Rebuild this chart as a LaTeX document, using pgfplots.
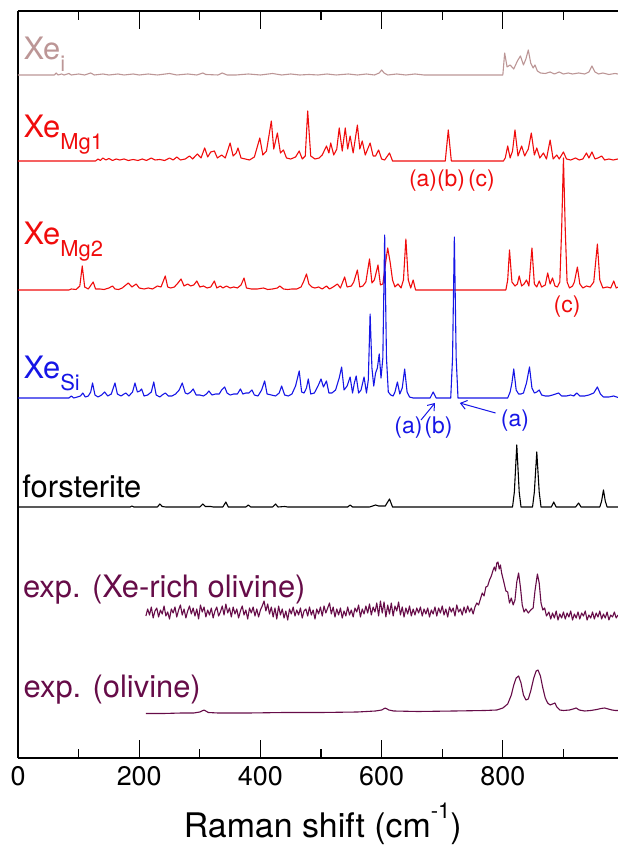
\documentclass[border=0pt]{standalone}
\usepackage{fontspec}
\setmainfont{TeX Gyre Heros}
\setsansfont{TeX Gyre Heros}
\usepackage{pgfplots}
\usepackage{pgfplotstable}
\pgfplotsset{compat=1.18}
\usetikzlibrary{arrows.meta}
\definecolor{xei}{RGB}{188,150,150}
\definecolor{xemg}{RGB}{240,12,12}
\definecolor{xesi}{RGB}{22,22,230}
\definecolor{expc}{RGB}{102,12,72}
\newcommand\lab[1]{Xe\raisebox{-12bp}{\fontsize{22}{22}\selectfont #1}}

\pgfplotstableread{
x y
0 0
60 0
63 2
66 0
72 1
76 0
84 1.5
88 0
100 1
110 0
120 2
126 0
140 1
150 0
165 1
175 0
190 1
200 0
215 1
230 0
250 1.5
262 0
280 1
295 0
305 2
310 0.5
330 0
337 2
345 0
360 0
380 1
400 0
420 1.5
435 0
450 1
465 0
480 0.5
495 0
510 1
525 0
545 1
560 0
575 1
588 0
596 2
600 5
604 2
610 0
625 1
640 0
655 1
670 0
800 0
803 22
807 8
812 10
818 6
824 14
829 19
834 10
838 16
842 25
846 12
850 7
853 10
857 4
862 2
870 1.5
878 3
885 1
893 3
900 1
908 2
915 1
925 2
935 1
942 3
947 9
952 3
958 1
965 2
975 0.5
985 1.5
990 1
}\xei

\pgfplotstableread{
x y
0 0
128 0
132 2
136 0.5
140 3
145 1
150 2.5
156 0.5
162 2
168 1
175 2
182 0.5
190 1.5
198 0.5
205 2
212 0.5
220 3
226 1
234 1.5
242 0.5
250 3
256 1
262 4
268 1
276 2
283 5
288 2
296 7
302 3
308 13
313 4
318 9
324 10
329 3
336 6
342 3
350 18
355 5
360 8
363 13
368 3
375 2
382 1
390 4
399 23
404 6
410 10
418 40
422 12
428 28
433 8
438 11
443 3
450 2
458 4
464 10
469 2
474 5
478 50
483 5
490 2
497 3
502 6
509 15
513 8
516 18
521 6
526 12
530 33
535 10
540 33
544 12
548 25
553 8
560 36
564 12
568 20
573 6
581 18
586 5
590 5
595 11
600 2
605 1
613 8
618 0
626 0
705 0
710 31
715 0
801 0
804 3
808 15
812 3
816 10
820 31
825 5
831 15
836 5
842 12
847 28
852 6
856 13
861 3
867 8
872 2
878 21
883 2
889 6
893 2
900 9
905 2
912 1
920 3
926 1
932 2
938 8
942 3
947 9
952 2
957 3
963 5
968 1
975 2
982 1
990 2
}\xemga

\pgfplotstableread{
x y
0 0
84 0
88 1
96 0.5
102 4
106 24
110 3
116 1
124 8
128 1
135 1
142 0.5
150 2
156 4
160 1
166 0.5
172 2
178 5
182 7
188 3
195 6
200 2
208 1
215 2
222 1
230 4
236 3
243 14
247 3
252 2
258 3
264 7
269 11
274 4
280 6
285 4
290 5
295 9
300 3
306 4
312 2
318 3
324 9
328 2
334 4
338 2
344 4
350 2
356 3
362 2
368 5
373 12
377 2
385 1
395 1
405 2
412 0.5
420 1
428 2
432 4
438 1
445 0.5
452 1
460 1
467 3
471 8
476 16
480 6
485 3
490 2
496 3
502 1
509 4
514 1
520 3
527 6
532 2
539 13
543 3
550 4
554 8
560 20
564 3
569 4
574 8
580 31
584 7
588 10
594 25
598 5
602 6
606 25
610 42
614 28
618 10
622 3
627 6
632 2
636 10
640 51
644 10
648 2
652 10
656 0
805 0
808 10
811 40
815 8
820 4
824 6
827 14
831 4
835 6
839 10
843 4
848 42
852 6
856 3
860 9
864 3
870 5
874 17
878 6
882 12
886 4
890 3
894 8
897 60
900 132
903 60
906 8
910 2
915 4
918 8
923 23
927 6
932 2
938 4
944 3
950 8
956 46
960 10
965 2
972 3
978 2
983 9
987 2
990 3
}\xemgb

\pgfplotstableread{
x y
0 0
84 0
88 2
92 0
98 1
103 2
107 5
111 1
116 2
120 6
123 15
127 3
132 1
138 3
143 6
148 2
154 4
160 15
164 4
170 2
175 4
178 5
183 2
189 6
193 15
197 6
201 7
204 9
208 2
214 3
220 6
224 16
228 3
234 1
238 3
243 5
248 2
254 2
260 4
266 8
271 15
276 5
280 4
285 6
289 9
294 3
300 3
306 2
311 4
315 7
320 3
326 4
332 4
336 8
341 11
345 5
350 3
356 4
362 4
367 9
371 4
376 5
381 5
386 8
390 3
396 2
402 8
407 17
411 4
418 3
425 2
431 5
435 12
440 3
446 2
452 4
458 12
464 27
468 6
472 5
476 10
479 19
483 4
489 5
495 12
500 19
504 11
509 17
513 5
518 5
524 8
530 20
534 31
538 8
543 12
548 21
552 5
555 15
558 22
562 5
566 8
571 21
575 5
578 18
581 84
584 30
587 12
590 25
593 30
596 44
599 20
602 40
605 163
608 40
611 6
615 3
619 2
622 6
626 16
630 4
634 10
638 29
642 6
646 1
652 0
680 0
685 6
690 0
714 0
717 40
720 161
723 40
726 0
808 0
812 6
815 15
818 29
822 8
826 4
830 4
834 5
839 15
844 31
848 10
852 5
856 6
860 8
864 3
870 2
876 2
882 3
887 4
892 5
897 2
905 2
912 3
917 2
922 5
927 2
935 2
942 3
950 5
956 11
961 4
966 1
975 1
983 2
990 0.5
}\xesi

\pgfplotstableread{
x y
0 0
185 0
188 1
191 0
230 0
234 3
238 0.5
244 0
300 0
305 3
309 0.5
318 0.5
322 0
338 0
343 5
347 0
376 0
380 2
384 0
420 0
425 3
429 0
440 0.5
445 0
544 0
548 2
552 0
580 0
585 1
590 2
595 1
600 1
606 1
613 8
618 0
816 0
819 15
823 62
827 15
830 0
849 0
852 15
856 55
860 15
863 0
880 0
884 5
888 0
920 0
925 4
929 0
960 0
963 6
966 17
969 6
972 0
990 0
}\fo

\pgfplotstableread{
x y
211 -3
214 4
217 -2
220 6
223 -5
226 2
229 5
232 -4
235 3
238 -1
241 7
244 -3
247 1
250 -6
253 4
256 0
259 6
262 -4
265 3
268 8
271 -2
274 4
277 -5
280 2
283 7
286 -1
289 5
292 -3
295 4
298 -6
301 8
304 1
307 6
310 -4
313 3
316 -2
319 5
322 -5
325 2
328 6
331 -3
334 1
337 7
340 -2
343 9
346 0
349 5
352 -4
355 6
358 -1
361 4
364 -5
367 2
370 7
373 -2
376 3
379 -6
382 5
385 0
388 6
391 -3
394 4
397 -4
400 3
403 7
406 12
409 2
412 9
415 -1
418 6
421 -4
424 5
427 -6
430 7
433 -2
436 4
439 -5
442 2
445 -7
448 4
451 -1
454 6
457 -3
460 3
463 -2
466 5
469 -5
472 2
475 4
478 -3
481 6
484 -2
487 3
490 -6
493 4
496 -1
499 6
502 -3
505 7
508 0
511 5
514 10
517 -1
520 6
523 -4
526 4
529 -2
532 5
535 -5
538 2
541 -3
544 6
547 -2
550 3
553 -4
556 5
559 1
562 8
565 -4
568 4
571 -1
574 7
577 0
580 9
583 -2
586 6
589 1
592 10
595 -3
598 12
601 0
604 11
607 -4
610 8
613 -1
616 10
619 -3
622 7
625 2
628 11
631 -2
634 6
637 -4
640 5
643 -1
646 7
649 -3
652 4
655 -2
658 5
661 0
664 6
667 -3
670 4
673 -1
676 5
679 -4
682 3
685 -1
688 6
691 -3
694 5
697 0
700 7
703 -2
706 4
709 -4
712 6
715 1
718 5
721 -3
724 8
727 1
730 4
733 -2
736 6
739 0
742 7
745 1
748 5
751 -1
754 6
757 10
760 8
763 14
766 20
769 17
772 26
775 27
778 33
781 37
784 43
786 46
788 42
790 50
792 51
794 44
796 48
798 40
800 35
802 30
805 22
808 21
811 10
814 15
817 8
820 13
823 31
826 40
829 26
832 8
835 1
838 4
842 0
846 3
850 5
853 22
857 39
860 30
863 10
866 3
869 5
872 -3
876 1
879 -6
882 0
885 -5
888 2
891 -7
894 -1
897 -5
900 1
903 -6
906 0
909 -4
912 2
915 -7
918 -1
921 -5
924 1
927 -6
930 0
933 -3
936 2
939 -7
942 -2
945 -5
948 1
951 -6
954 0
957 -4
960 2
963 -6
966 -1
969 -5
972 1
975 -7
978 -2
981 -4
984 1
987 -5
990 -2
}\expxe

\pgfplotstableread{
x y
211 -0.5
240 -0.5
270 0
290 0
300 1
307 3
314 0.5
330 0
380 0
440 0.5
500 0.5
560 1
590 2
600 3
606 5
612 3
620 2
660 1.5
720 2
770 2.5
790 3
800 5
808 9
814 18
818 28
822 35
826 37
830 30
834 18
838 13
842 14
846 22
851 35
855 42
858 43
862 37
866 25
870 15
874 10
878 8
882 9
886 10
889 6
894 3
900 2.5
910 3
916 4
921 5
926 3
935 2
945 2.5
955 3.5
962 4.5
968 5
974 4
980 3
986 2.5
990 2.5
}\expol

\begin{document}
\begin{tikzpicture}
\useasboundingbox (-18bp,-95bp) rectangle (600bp,758bp);
\begin{axis}[
  scale only axis,
  width=600bp, height=747bp,
  xmin=0, xmax=990, ymin=0, ymax=747,
  axis x line*=box, axis y line*=left,
  axis line style={line width=1.2bp, black},
  xtick={0,200,400,600,800},
  minor xtick={100,300,500,700,900},
  ytick=\empty,
  tick align=inside,
  major tick length=18bp, minor tick length=9bp,
  tick style={line width=1.2bp, black},
  /pgf/number format/assume math mode=true,
  tick label style={font=\fontsize{27}{27}\selectfont},
  every x tick label/.append style={yshift=-5bp},
  xlabel={Raman shift (cm\raisebox{0.55em}{\fontsize{22}{22}\selectfont -1})},
  every axis x label/.style={at={(axis description cs:0.508,0)}, anchor=base, yshift=-79bp, font=\fontsize{34}{34}\selectfont},
  every axis plot/.append style={line width=1.1bp, line join=round},
]
\addplot[xei] table[y expr=\thisrow{y}+683] {\xei};
\addplot[xemg] table[y expr=\thisrow{y}+597] {\xemga};
\addplot[xemg] table[y expr=\thisrow{y}+468] {\xemgb};
\addplot[xesi] table[y expr=\thisrow{y}+360] {\xesi};
\addplot[black] table[y expr=\thisrow{y}+251] {\fo};
\addplot[expc] table[y expr=\thisrow{y}+145] {\expxe};
\addplot[expc] table[y expr=\thisrow{y}+45] {\expol};

\begin{scope}[every node/.style={inner sep=0, anchor=base west, font=\fontsize{31}{31}\selectfont}]
\node[text=xei] at (axis cs:9,698) {\lab{i}};
\node[text=xemg] at (axis cs:9,620) {\lab{Mg1}};
\node[text=xemg] at (axis cs:9,513) {\lab{Mg2}};
\node[text=xesi] at (axis cs:9,379) {\lab{Si}};
\node[text=black] at (axis cs:7,260) {forsterite};
\node[text=expc] at (axis cs:8,160) {exp. (Xe-rich olivine)};
\node[text=expc] at (axis cs:9,61) {exp. (olivine)};
\end{scope}
\begin{scope}[every node/.style={inner sep=0, anchor=base, font=\fontsize{23}{23}\selectfont}]
\node[text=xemg] at (axis cs:716,571) {(a)(b)\kern3bp(c)};
\node[text=xemg] at (axis cs:906,445) {(c)};
\node[text=xesi] at (axis cs:669,324) {(a)\kern2bp(b)};
\node[text=xesi] at (axis cs:820,331) {(a)};
\end{scope}
\draw[xesi, line width=1bp, -{Straight Barb[length=6bp,width=9bp]}] (axis cs:665,338) -- (axis cs:688,355);
\draw[xesi, line width=1bp, -{Straight Barb[length=6bp,width=9bp]}] (axis cs:788,345) -- (axis cs:729,355);
\end{axis}
\end{tikzpicture}
\end{document}
